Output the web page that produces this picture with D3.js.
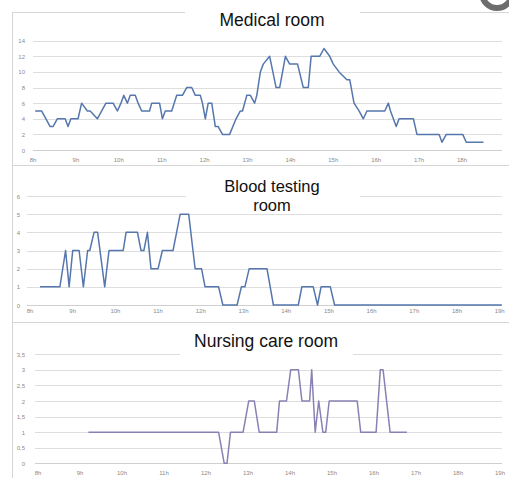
<!DOCTYPE html>
<html><head><meta charset="utf-8">
<script src="https://cdn.jsdelivr.net/npm/d3@7"></script>
<style>body{margin:0;background:#fff}svg{display:block}</style>
</head><body>
<svg id="c" width="509" height="478"></svg>
<script>
// ---- data (x = minutes after 8:00) ----
const hourLabels1 = ["8h","9h","10h","11h","12h","13h","14h","15h","16h","17h","18h"];
const hourLabels2 = ["8h","9h","10h","11h","12h","13h","14h","15h","16h","17h","18h","19h"];
const medTicks = [0,2,4,6,8,10,12,14];
const bloodTicks = [0,1,2,3,4,5,6];
const nurseTicks = [0,0.5,1,1.5,2,2.5,3,3.5];
const nurseTickLabels = ["0","0,5","1","1,5","2","2,5","3","3,5"];

const medMinutes = [3,12,24,28,34,45,49,53,63,68,76,80,90,102,112,118,123,127,132,136,143,147,152,163,166,177,181,185,194,201,209,215,222,227,234,237,241,245,250,255,259,265,275,284,290,293,299,304,310,313,318,322,331,340,345,353,359,370,378,385,389,401,407,415,420,428,439,443,449,456,462,467,492,497,500,508,512,532,537,568,572,578,601,606,630];
const medValues  = [5,5,3,3,4,4,3,4,4,6,5,5,4,6,6,5,6,7,6,7,7,6,5,5,6,6,4,5,5,7,7,8,8,7,7,6,4,6,6,3,3,2,2,4,5,5,7,7,6,7,10,11,12,8,8,12,11,11,8,8,12,12,13,12,11,10,9,9,6,5,4,5,5,6,5,3,4,4,2,2,1,2,2,1,1];

const bloodMinutes = [14,42,50,55,60,69,75,81,84,90,95,105,111,131,135,151,156,160,165,170,180,186,201,206,211,223,229,232,241,246,265,271,291,297,302,308,333,342,377,382,398,404,409,422,428,663];
const bloodValues  = [1,1,3,1,3,3,1,3,3,4,4,1,3,3,4,4,3,3,4,2,2,3,3,4,5,5,3,2,2,1,1,0,0,1,1,2,2,0,0,1,1,0,1,1,0,0];

const nurseMinutes = [72,258,266,270,275,293,301,309,316,341,345,355,361,372,377,388,391,396,401,407,411,416,456,461,483,489,493,503,527];
const nurseValues  = [1,1,0,0,1,1,2,2,1,1,2,2,3,3,2,2,3,1,2,1,1,2,2,1,1,3,3,1,1];

const svg = d3.select("#c");
const FONT = "'Liberation Sans', Arial, sans-serif";

function panel(o){
  const g = svg.append("g");
  g.append("rect").attr("x",12.5).attr("y",o.top+0.5).attr("width",510).attr("height",o.bottom-o.top)
    .attr("fill","#fff").attr("stroke","#d6d6d6");
  const x = d3.scaleLinear().domain([0,660]).range([o.x0,o.x1]);
  const y = d3.scaleLinear().domain([0,o.ymax]).range([o.y0,o.y1]);
  g.selectAll(".gl").data(o.ticks).join("line")
    .attr("x1",o.gx0).attr("x2",502).attr("y1",d=>Math.round(y(d))+0.5).attr("y2",d=>Math.round(y(d))+0.5)
    .attr("stroke",(d,i)=>i===0?"#cfcfcf":"#dedede").attr("stroke-width",1);
  g.selectAll(".yl").data(o.ticks).join("text")
    .attr("x",o.ylx).attr("y",d=>y(d)+2.5).attr("text-anchor","end")
    .attr("font-family",FONT).attr("font-size",6).attr("fill","#8a8a8a")
    .text((d,i)=>o.tickLabels?o.tickLabels[i]:d);
  g.selectAll(".xl").data(o.xlabels).join("text")
    .attr("x",(d,i)=>x(i*60)).attr("y",o.xly).attr("text-anchor","middle")
    .attr("font-family",FONT).attr("font-size",6).attr("fill","#8a8a8a")
    .text(d=>d);
  const pts = o.xs.map((m,i)=>[m,o.vs[i]]);
  g.append("path").datum(pts)
    .attr("d",d3.line().x(d=>x(d[0])).y(d=>y(d[1])))
    .attr("fill","none").attr("stroke",o.color).attr("stroke-width",1.5).attr("stroke-linejoin","round");
  g.append("rect").attr("x",o.bx0).attr("y",o.by0).attr("width",o.bx1-o.bx0).attr("height",o.by1-o.by0).attr("fill","#fff");
  o.title.forEach((t,i)=>{
    g.append("text").attr("x",o.tx).attr("y",o.ty+i*(o.lh||17)).attr("text-anchor","middle")
      .attr("font-family",FONT).attr("font-size",o.fs||17.5).attr("fill","#111").text(t);
  });
}

panel({top:12,bottom:165,x0:33,x1:504.9,gx0:33,ymax:14,y0:150,y1:40.7,ticks:medTicks,ylx:25,xly:162,
  xlabels:hourLabels1,xs:medMinutes,vs:medValues,color:"#5577ad",
  bx0:185,bx1:360,by0:0,by1:35,title:["Medical room"],tx:272,ty:26});
panel({top:165,bottom:322,x0:30,x1:499.7,gx0:27,ymax:6,y0:305,y1:196,ticks:bloodTicks,ylx:20,xly:313,
  xlabels:hourLabels2,xs:bloodMinutes,vs:bloodValues,color:"#5577ad",
  bx0:186,bx1:360,by0:166,by1:200,title:["Blood testing","room"],tx:272,ty:192,fs:16.5,lh:19});
panel({top:322,bottom:480,x0:38,x1:500,gx0:35,ymax:3.5,y0:463.3,y1:354.3,ticks:nurseTicks,tickLabels:nurseTickLabels,ylx:25,xly:475,
  xlabels:hourLabels2,xs:nurseMinutes,vs:nurseValues,color:"#8b80b3",
  bx0:180,bx1:353,by0:323,by1:356,title:["Nursing care room"],tx:266,ty:347});

svg.append("circle").attr("cx",497).attr("cy",-7).attr("r",15).attr("fill","none").attr("stroke","#6d6d6d").attr("stroke-width",6);
</script>
</body></html>
